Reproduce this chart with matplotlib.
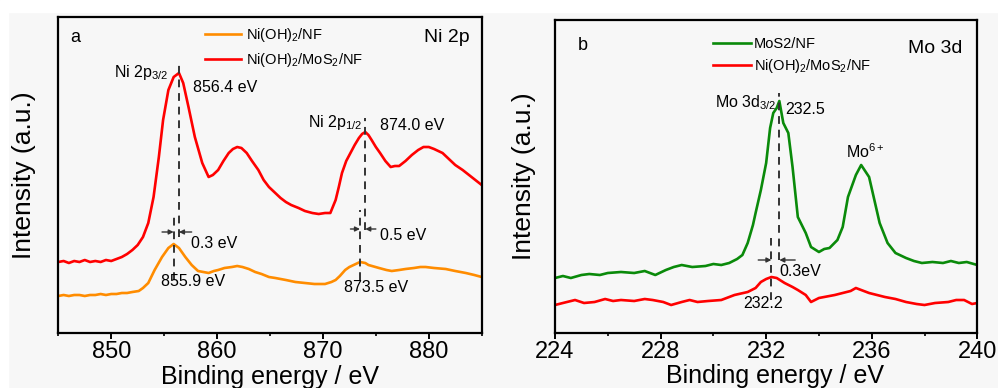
import matplotlib
matplotlib.use("Agg")
import matplotlib.pyplot as plt
from matplotlib.patches import Rectangle
from matplotlib.ticker import MultipleLocator

plt.rcParams["font.family"] = ["Liberation Sans", "DejaVu Sans"]
plt.rcParams["mathtext.fontset"] = "custom"
plt.rcParams["mathtext.rm"] = "Liberation Sans"
plt.rcParams["mathtext.it"] = "Liberation Sans"

# ---- panel a : Ni 2p ----
ni_energy_red = [845.0, 845.5, 846.0, 846.5, 847.0, 847.5, 848.0, 848.5, 849.0, 849.5,
                 850.0, 850.5, 851.0, 851.5, 852.0, 852.5, 853.0, 853.5, 854.0, 854.5,
                 854.9, 855.4, 855.9, 856.4, 856.8, 857.3, 857.9, 858.6, 859.2, 859.6,
                 860.1, 860.6, 861.1, 861.5, 861.9, 862.3, 862.8, 863.3, 863.9, 864.4,
                 864.9, 865.5, 866.0, 866.5, 867.0, 867.7, 868.3, 869.0, 869.6, 870.2,
                 870.7, 871.2, 871.5, 871.8, 872.2, 872.6, 873.0, 873.4, 873.7, 874.0,
                 874.3, 874.6, 875.0, 875.4, 875.9, 876.4, 876.8, 877.2, 877.8, 878.4,
                 879.0, 879.5, 880.0, 880.5, 881.3, 882.0, 882.5, 883.2, 883.8, 884.4,
                 885.0]
ni_int_red = [71, 72, 70, 72, 71, 73, 71, 72, 71, 73,
              72, 74, 76, 79, 83, 88, 96, 110, 136, 176,
              213, 243, 256, 260, 250, 226, 196, 170, 156, 158,
              163, 172, 180, 184, 186, 185, 180, 172, 163, 153,
              146, 140, 135, 131, 128, 125, 122, 120, 119, 120,
              120, 133, 146, 160, 172, 180, 188, 195, 199, 201,
              198, 193, 186, 180, 172, 166, 167, 167, 172, 178,
              183, 186, 186, 184, 180, 173, 168, 163, 158, 153,
              148]

ni_energy_orange = [845.0, 845.5, 846.0, 846.5, 847.0, 847.5, 848.0, 848.5, 849.0, 849.5,
                    850.0, 850.5, 851.0, 851.5, 852.0, 852.6, 853.0, 853.5, 854.1, 854.8,
                    855.4, 855.9, 856.4, 857.0, 857.6, 858.2, 858.7, 859.2, 859.7, 860.1,
                    860.7, 861.4, 861.9, 862.4, 863.0, 863.6, 864.2, 864.9, 865.5, 866.5,
                    867.4, 868.3, 869.2, 870.2, 870.8, 871.2, 871.6, 872.1, 872.5, 872.9,
                    873.5, 874.0, 874.3, 875.3, 876.0, 876.5, 877.2, 877.8, 878.6, 879.2,
                    879.7, 880.5, 881.6, 882.5, 883.5, 884.3, 885.0]
ni_int_orange = [37, 38, 37, 38, 38, 37, 38, 38, 39, 38,
                 39, 39, 40, 40, 41, 42, 45, 50, 63, 76,
                 85, 89, 85, 76, 68, 62, 61, 60, 62, 63,
                 65, 66, 67, 66, 64, 61, 59, 56, 55, 53,
                 51, 50, 49, 49, 51, 53, 57, 63, 66, 68,
                 71, 70, 68, 65, 63, 62, 63, 64, 65, 66,
                 66, 65, 64, 62, 60, 58, 56]

# ---- panel b : Mo 3d ----
mo_energy_green = [224.0, 224.3, 224.6, 225.0, 225.3, 225.7, 226.0, 226.5, 227.0, 227.4,
                   227.8, 228.2, 228.5, 228.8, 229.2, 229.7, 230.0, 230.3, 230.6, 230.9,
                   231.1, 231.3, 231.5, 231.6, 231.8, 232.0, 232.15, 232.27, 232.4, 232.5,
                   232.65, 232.84, 233.0, 233.2, 233.5, 233.7, 234.0, 234.2, 234.4, 234.7,
                   234.9, 235.1, 235.4, 235.6, 235.9, 236.1, 236.3, 236.6, 236.9, 237.3,
                   237.6, 237.9, 238.3, 238.7, 239.0, 239.3, 239.6, 240.0]
mo_int_green = [55, 57, 55, 58, 59, 58, 60, 61, 60, 62,
                58, 63, 66, 68, 66, 67, 69, 68, 70, 74,
                78, 90, 108, 120, 143, 170, 205, 220, 225, 232,
                210, 200, 166, 116, 100, 86, 81, 84, 85, 93,
                106, 136, 158, 168, 156, 133, 110, 90, 80, 75,
                72, 70, 71, 70, 72, 70, 71, 68]

mo_energy_red = [224.0, 224.3, 224.76, 225.1, 225.5, 225.9, 226.2, 226.5, 227.0, 227.4,
                 227.7, 228.1, 228.4, 228.8, 229.1, 229.4, 229.8, 230.3, 230.8, 231.3,
                 231.6, 231.8, 232.0, 232.2, 232.4, 232.7, 233.0, 233.2, 233.5, 233.7,
                 234.0, 234.2, 234.6, 234.9, 235.2, 235.4, 235.7, 235.9, 236.2, 236.5,
                 236.9, 237.3, 237.7, 238.0, 238.4, 238.9, 239.2, 239.5, 239.8, 240.0]
mo_int_red = [28, 30, 33, 30, 31, 34, 32, 33, 32, 34,
              33, 31, 28, 31, 33, 31, 32, 33, 38, 41,
              45, 51, 54, 56, 55, 50, 46, 43, 38, 31,
              35, 36, 38, 40, 42, 45, 42, 40, 38, 36,
              34, 31, 29, 28, 30, 31, 33, 33, 29, 30]

RED = "#ff0000"
ORANGE = "#ff8c00"
GREEN = "#0a8a0a"

W, H = 998, 388
fig = plt.figure(figsize=(W / 100, H / 100), dpi=100, facecolor="#f7f7f7")
fig.add_artist(Rectangle((0, 1 - 12 / H), 1, 12 / H, transform=fig.transFigure,
                         color="white", zorder=-1))
fig.add_artist(Rectangle((0, 0), 8 / W, 1, transform=fig.transFigure,
                         color="white", zorder=-1))


def make_axes(l, r, t, b):
    ax = fig.add_axes([l / W, (H - b) / H, (r - l) / W, (b - t) / H])
    ax.set_facecolor("#f7f7f7")
    for s in ax.spines.values():
        s.set_linewidth(1.6)
    ax.set_yticks([])
    ax.tick_params(axis="x", which="major", direction="out", length=4, width=1.4,
                   labelsize=17, pad=2)
    ax.tick_params(axis="x", which="minor", direction="out", length=2.5, width=1.2)
    return ax


ANN = 11.5
LEG = 10.5
dash = dict(color="#333333", linestyle=(0, (4, 3)), linewidth=1.4)
arr = dict(arrowstyle="-|>", color="#333333", lw=1.0, mutation_scale=7,
           shrinkA=0, shrinkB=0)

# panel a
ax1 = make_axes(58.3, 481.7, 17, 333)
ax1.plot(ni_energy_orange, ni_int_orange, color=ORANGE, lw=1.9, label="Ni(OH)$_2$/NF")
ax1.plot(ni_energy_red, ni_int_red, color=RED, lw=1.9, label="Ni(OH)$_2$/MoS$_2$/NF")
ax1.set_xlim(845, 885)
ax1.set_ylim(0, 316)
ax1.xaxis.set_major_locator(MultipleLocator(10))
ax1.xaxis.set_minor_locator(MultipleLocator(5))
ax1.set_xlabel("Binding energy / eV", fontsize=18)
ax1.xaxis.set_label_coords(0.5, -0.1)
ax1.set_ylabel("Intensity (a.u.)", fontsize=19)
ax1.yaxis.set_label_coords(-0.053, 0.5)
ax1.legend(loc="upper left", bbox_to_anchor=(0.346, 0.972), frameon=False,
           fontsize=LEG, handlelength=2.5, handletextpad=0.35, labelspacing=0.5,
           borderpad=0, borderaxespad=0)
ax1.text(0.028, 0.934, "a", transform=ax1.transAxes, fontsize=13, va="center")
ax1.text(0.972, 0.934, "Ni 2p", transform=ax1.transAxes, fontsize=14,
         ha="right", va="center")

ax1.plot([856.4, 856.4], [96, 270], **dash)
ax1.plot([855.9, 855.9], [53, 121], **dash)
ax1.annotate("", xy=(855.9, 101), xytext=(854.8, 101), arrowprops=arr)
ax1.annotate("", xy=(856.4, 101), xytext=(857.6, 101), arrowprops=arr)
ax1.text(857.5, 90, "0.3 eV", fontsize=ANN, va="center")
ax1.text(857.7, 245, "856.4 eV", fontsize=ANN, va="center")
ax1.text(855.4, 261, "Ni 2p$_{3/2}$", fontsize=ANN, va="center", ha="right")
ax1.text(857.7, 51, "855.9 eV", fontsize=ANN, va="center", ha="center")

ax1.plot([874.0, 874.0], [103, 215], **dash)
ax1.plot([873.5, 873.5], [53, 123], **dash)
ax1.annotate("", xy=(873.5, 104), xytext=(872.6, 104), arrowprops=arr)
ax1.annotate("", xy=(874.0, 104), xytext=(875.0, 104), arrowprops=arr)
ax1.text(875.4, 98, "0.5 eV", fontsize=ANN, va="center")
ax1.text(875.4, 207, "874.0 eV", fontsize=ANN, va="center")
ax1.text(873.7, 211, "Ni 2p$_{1/2}$", fontsize=ANN, va="center", ha="right")
ax1.text(875.0, 45, "873.5 eV", fontsize=ANN, va="center", ha="center")

# panel b
ax2 = make_axes(555, 977.3, 20, 333)
ax2.plot(mo_energy_green, mo_int_green, color=GREEN, lw=1.9, label="MoS2/NF")
ax2.plot(mo_energy_red, mo_int_red, color=RED, lw=1.9, label="Ni(OH)$_2$/MoS$_2$/NF")
ax2.set_xlim(224, 240)
ax2.set_ylim(0, 313)
ax2.xaxis.set_major_locator(MultipleLocator(4))
ax2.xaxis.set_minor_locator(MultipleLocator(2))
ax2.set_xlabel("Binding energy / eV", fontsize=18)
ax2.xaxis.set_label_coords(0.52, -0.1)
ax2.set_ylabel("Intensity (a.u.)", fontsize=19)
ax2.yaxis.set_label_coords(-0.045, 0.5)
ax2.legend(loc="upper left", bbox_to_anchor=(0.374, 0.946), frameon=False,
           fontsize=LEG, handlelength=2.6, handletextpad=0.2, labelspacing=0.4,
           borderpad=0, borderaxespad=0)
ax2.text(0.054, 0.92, "b", transform=ax2.transAxes, fontsize=13, va="center")
ax2.text(0.964, 0.91, "Mo 3d", transform=ax2.transAxes, fontsize=14,
         ha="right", va="center")

ax2.plot([232.5, 232.5], [73, 240], **dash)
ax2.plot([232.2, 232.2], [33, 95], **dash)
ax2.annotate("", xy=(232.2, 73), xytext=(231.7, 73), arrowprops=arr)
ax2.annotate("", xy=(232.5, 73), xytext=(233.1, 73), arrowprops=arr)
ax2.text(232.5, 61, "0.3eV", fontsize=ANN, va="center")
ax2.text(232.74, 223, "232.5", fontsize=ANN, va="center")
ax2.text(232.4, 230, "Mo 3d$_{3/2}$", fontsize=ANN, va="center", ha="right")
ax2.text(235.75, 181, "Mo$^{6+}$", fontsize=ANN, va="center", ha="center")
ax2.text(231.9, 30, "232.2", fontsize=ANN, va="center", ha="center")

fig.savefig("out.png", dpi=100, facecolor=fig.get_facecolor())
